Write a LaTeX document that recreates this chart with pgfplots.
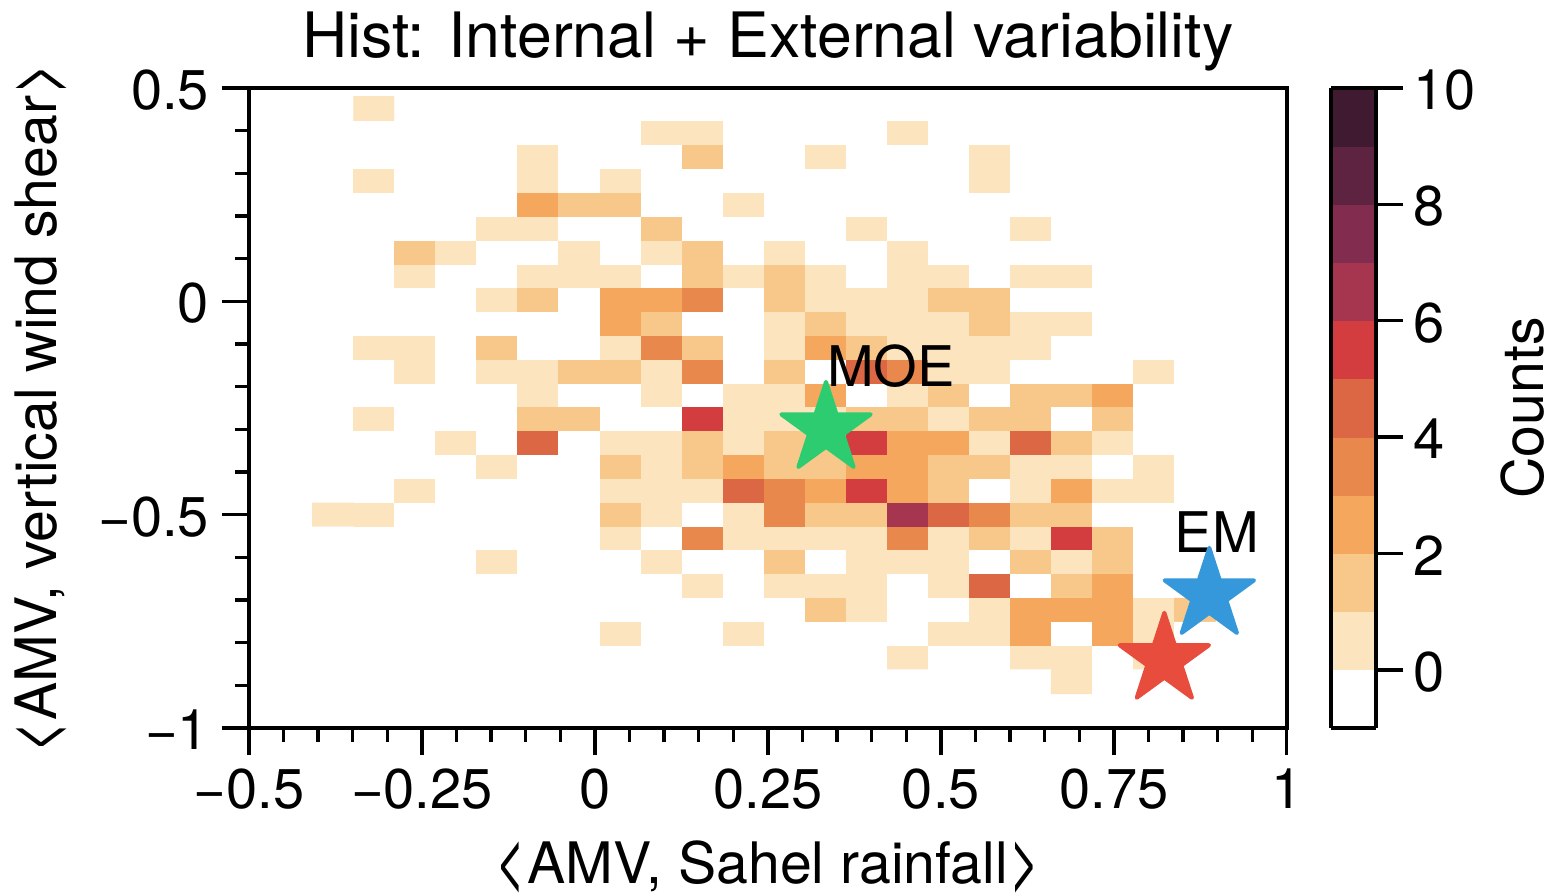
\documentclass[border=0pt]{standalone}
\usepackage{pgfplots}
\pgfplotsset{compat=1.18}
\usepackage{fontspec}
\setmainfont{TeX Gyre Heros}
\definecolor{cstarg}{HTML}{2ECC71}
\definecolor{cstarb}{HTML}{3498DB}
\definecolor{cstarr}{HTML}{E74C3C}
\newcommand\lb{\raisebox{-2.2pt}{\scalebox{0.92}[1.4]{<}}\kern0.6pt}
\newcommand\rb{\kern0.6pt\raisebox{-2.2pt}{\scalebox{0.92}[1.4]{>}}}
\pgfdeclareplotmark{fstar}{%
  \pgfpathmoveto{\pgfpointpolar{90}{\pgfplotmarksize}}%
  \pgfpathlineto{\pgfpointpolar{126}{0.382\pgfplotmarksize}}%
  \pgfpathlineto{\pgfpointpolar{162}{\pgfplotmarksize}}%
  \pgfpathlineto{\pgfpointpolar{198}{0.382\pgfplotmarksize}}%
  \pgfpathlineto{\pgfpointpolar{234}{\pgfplotmarksize}}%
  \pgfpathlineto{\pgfpointpolar{270}{0.382\pgfplotmarksize}}%
  \pgfpathlineto{\pgfpointpolar{306}{\pgfplotmarksize}}%
  \pgfpathlineto{\pgfpointpolar{342}{0.382\pgfplotmarksize}}%
  \pgfpathlineto{\pgfpointpolar{18}{\pgfplotmarksize}}%
  \pgfpathlineto{\pgfpointpolar{54}{0.382\pgfplotmarksize}}%
  \pgfpathclose\pgfusepathqfillstroke}
\begin{document}
\begin{tikzpicture}
\useasboundingbox (-124.5pt,-83.5pt) rectangle (653pt,364pt);
\begin{axis}[
  scale only axis,
  width=518.9pt, height=320pt,
  at={(0pt,0pt)}, anchor=south west,
  xmin=-0.5, xmax=1, ymin=-1, ymax=0.5,
  axis line style={line width=1.9pt},
  every tick/.style={black,line width=1.7pt},
  tick align=outside,
  major tick length=13.5pt,
  minor tick length=7pt,
  xtick pos=bottom, ytick pos=left,
  xtick={-0.5,-0.25,0,0.25,0.5,0.75,1},
  xticklabels={−0.5,−0.25,0,0.25,0.5,0.75,1},
  ytick={-1,-0.5,0,0.5},
  yticklabels={−1,−0.5,0,0.5},
  minor x tick num=4,
  minor y tick num=4,
  tick label style={font=\fontsize{28}{28}\selectfont},
  xticklabel style={yshift=-3.5pt},
  yticklabel style={xshift=-3pt,yshift=-1pt},
  title={Hist: Internal + External variability},
  title style={font=\fontsize{31.3}{33}\selectfont,at={(axis description cs:0.5,1)},anchor=center,yshift=17pt},
  xlabel={\lb AMV, Sahel rainfall\rb},
  ylabel={\lb AMV, vertical wind shear\rb},
  every axis x label/.style={at={(axis description cs:0.5,0)},anchor=center,yshift=-69.5pt,font=\fontsize{28.6}{30}\selectfont},
  every axis y label/.style={at={(axis description cs:0,0.5)},rotate=90,anchor=center,yshift=104pt,font=\fontsize{28.6}{30}\selectfont},
  colormap={counts}{
    color(0cm)=(white)
    color(1cm)=(rgb,255:red,252;green,229;blue,190)
    color(2cm)=(rgb,255:red,248;green,199;blue,138)
    color(3cm)=(rgb,255:red,245;green,168;blue,93)
    color(4cm)=(rgb,255:red,232;green,136;blue,77)
    color(5cm)=(rgb,255:red,219;green,103;blue,68)
    color(6cm)=(rgb,255:red,211;green,61;blue,63)
    color(7cm)=(rgb,255:red,166;green,54;blue,80)
    color(8cm)=(rgb,255:red,130;green,44;blue,80)
    color(9cm)=(rgb,255:red,94;green,35;blue,64)
    color(10cm)=(rgb,255:red,63;green,26;blue,48)
    color(11cm)=(rgb,255:red,63;green,26;blue,48)
  },
  colormap access=piecewise constant,
  point meta min=-1, point meta max=10,
  colorbar,
  colorbar style={
    width=22.5pt,
    at={(parent axis.right of north east)},anchor=north west,xshift=2.5pt,
    ytick={0,2,4,6,8,10},
    yticklabels={0,2,4,6,8,10},
    yticklabel pos=right,
    ytick pos=right,
    tick align=outside,
    major tick length=13.5pt,
    axis line style={line width=1.9pt},
    every tick/.style={black,line width=1.7pt},
    yticklabel style={font=\fontsize{28}{28}\selectfont,xshift=1.5pt,yshift=-1pt},
    ylabel={Counts},
    every axis y label/.style={at={(axis description cs:1,0.5)},rotate=90,anchor=center,yshift=-73.5pt,font=\fontsize{28.6}{30}\selectfont},
  },
]
\addplot[matrix plot*, mesh/cols=22, point meta=explicit]
  table[
    row sep=crcr, header=false,
    x index=0, y index=0,
    x expr={-0.408+(mod(\coordindex,22)+0.5)*0.05932},
    y expr={(728.3-(\coordindex<22 ? 109 : 122+23.83*(floor((\coordindex+0.5)/22)-0.5)))/426.9-1},
    meta expr={\thisrowno{0}-0.5}
  ] {
0\\1\\0\\0\\0\\0\\0\\0\\0\\0\\0\\0\\0\\0\\0\\0\\0\\0\\0\\0\\0\\0\\
0\\0\\0\\0\\0\\0\\0\\0\\1\\1\\0\\0\\0\\0\\1\\0\\0\\0\\0\\0\\0\\0\\
0\\0\\0\\0\\0\\1\\0\\0\\0\\2\\0\\0\\1\\0\\0\\0\\1\\0\\0\\0\\0\\0\\
0\\1\\0\\0\\0\\1\\0\\1\\0\\0\\0\\0\\0\\0\\0\\0\\1\\0\\0\\0\\0\\0\\
0\\0\\0\\0\\0\\3\\2\\2\\0\\0\\1\\0\\0\\0\\0\\0\\0\\0\\0\\0\\0\\0\\
0\\0\\0\\0\\1\\1\\0\\0\\2\\0\\0\\0\\0\\1\\0\\0\\0\\1\\0\\0\\0\\0\\
0\\0\\2\\1\\0\\0\\1\\0\\1\\2\\0\\1\\0\\0\\1\\0\\0\\0\\0\\0\\0\\0\\
0\\0\\1\\0\\0\\1\\1\\1\\0\\2\\1\\2\\1\\0\\1\\1\\0\\1\\1\\0\\0\\0\\
0\\0\\0\\0\\1\\2\\0\\3\\3\\4\\0\\2\\1\\1\\1\\2\\2\\0\\0\\0\\0\\0\\
0\\0\\0\\0\\0\\0\\0\\3\\2\\0\\0\\1\\2\\1\\1\\1\\2\\1\\1\\0\\0\\0\\
0\\1\\1\\0\\2\\0\\0\\1\\4\\2\\0\\1\\3\\2\\1\\1\\1\\1\\0\\0\\0\\0\\
0\\0\\1\\0\\1\\1\\2\\2\\1\\4\\0\\2\\0\\5\\4\\1\\1\\0\\0\\0\\1\\0\\
0\\0\\0\\0\\0\\1\\0\\0\\1\\0\\1\\1\\3\\0\\1\\2\\0\\2\\2\\3\\0\\0\\
0\\1\\0\\0\\0\\2\\2\\0\\0\\6\\1\\1\\1\\2\\2\\1\\2\\2\\0\\2\\0\\0\\
0\\0\\0\\1\\0\\5\\0\\1\\1\\2\\1\\2\\2\\6\\3\\3\\1\\5\\2\\1\\0\\0\\
0\\0\\0\\0\\1\\0\\0\\2\\1\\2\\3\\2\\2\\3\\3\\2\\2\\1\\1\\0\\1\\0\\
0\\0\\1\\0\\0\\0\\0\\1\\1\\1\\5\\4\\3\\6\\3\\2\\0\\1\\3\\1\\1\\0\\
1\\1\\0\\0\\0\\0\\0\\2\\1\\0\\1\\4\\2\\2\\7\\5\\4\\2\\2\\0\\0\\0\\
0\\0\\0\\0\\0\\0\\0\\1\\0\\4\\1\\1\\1\\1\\4\\1\\2\\1\\6\\2\\0\\0\\
0\\0\\0\\0\\1\\0\\0\\0\\1\\0\\0\\2\\0\\1\\1\\1\\0\\2\\1\\2\\0\\0\\
0\\0\\0\\0\\0\\0\\0\\0\\0\\1\\0\\1\\1\\1\\0\\1\\5\\0\\2\\3\\0\\0\\
0\\0\\0\\0\\0\\0\\0\\0\\0\\0\\0\\0\\2\\1\\0\\0\\1\\3\\3\\3\\1\\2\\
0\\0\\0\\0\\0\\0\\0\\1\\0\\0\\1\\0\\0\\0\\0\\1\\1\\3\\0\\3\\1\\0\\
0\\0\\0\\0\\0\\0\\0\\0\\0\\0\\0\\0\\0\\0\\1\\0\\0\\1\\1\\0\\1\\0\\
0\\0\\0\\0\\0\\0\\0\\0\\0\\0\\0\\0\\0\\0\\0\\0\\0\\0\\1\\0\\0\\0\\
};
\addplot[only marks, mark=fstar, mark size=23.5pt, mark options={draw=cstarg, fill=cstarg, line width=2pt, line join=round}] coordinates {(0.334,-0.299)};
\addplot[only marks, mark=fstar, mark size=23.5pt, mark options={draw=cstarb, fill=cstarb, line width=2pt, line join=round}] coordinates {(0.888,-0.688)};
\addplot[only marks, mark=fstar, mark size=23.5pt, mark options={draw=cstarr, fill=cstarr, line width=2pt, line join=round}] coordinates {(0.823,-0.840)};
\node[font=\fontsize{28}{28}\selectfont] at (axis cs:0.428,-0.151) {MOE};
\node[font=\fontsize{28}{28}\selectfont] at (axis cs:0.899,-0.540) {EM};
\end{axis}
\end{tikzpicture}
\end{document}
